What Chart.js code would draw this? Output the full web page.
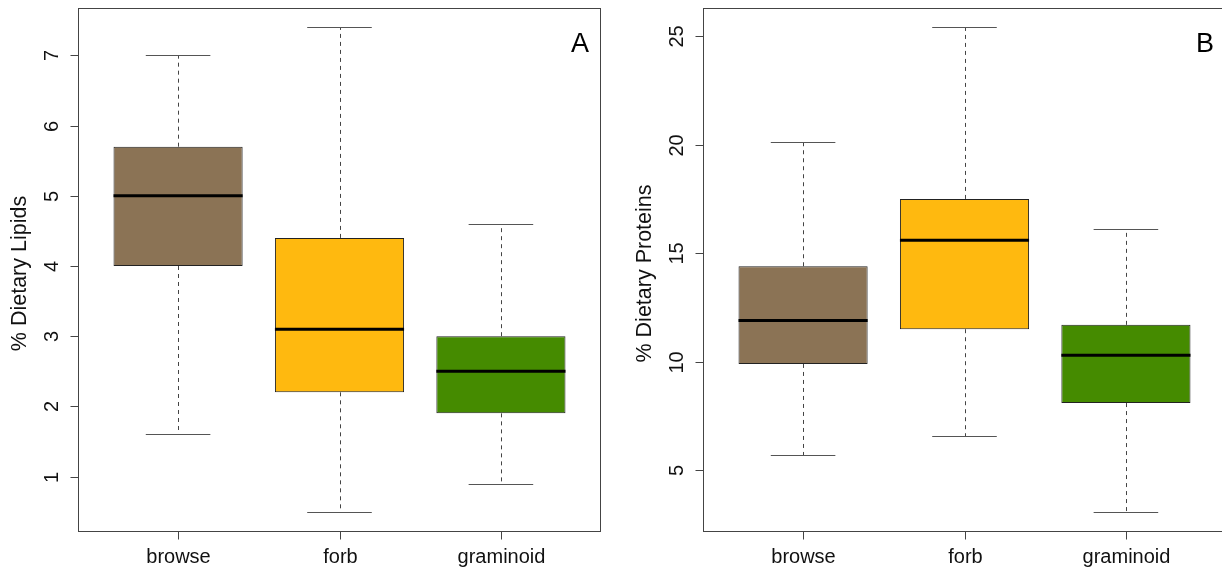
<!DOCTYPE html>
<html>
<head>
<meta charset="utf-8">
<script src="https://cdn.jsdelivr.net/npm/chart.js@4.4.1/dist/chart.umd.min.js"></script>
<style>
  html, body { margin: 0; padding: 0; background: #fff; overflow: hidden; width: 1222px; height: 571px; }
  canvas { position: absolute; top: 0; }
  #lipids { left: 0; }
  #proteins { left: 611px; }
</style>
</head>
<body>
<canvas id="lipids" width="611" height="571"></canvas>
<canvas id="proteins" width="620" height="571"></canvas>
<script>
// Forage classes shown on both panels
const categories = ['browse', 'forb', 'graminoid'];
const boxColors = ['#8B7355', '#FFB90F', '#458B00'];

// Panel A: % dietary lipids (five-number summaries)
const lipidsLow    = [1.6, 0.5, 0.9];
const lipidsQ1     = [4.0, 2.2, 1.9];
const lipidsMedian = [5.0, 3.1, 2.5];
const lipidsQ3     = [5.7, 4.4, 3.0];
const lipidsHigh   = [7.0, 7.4, 4.6];
const lipidsTicks  = [1, 2, 3, 4, 5, 6, 7];

// Panel B: % dietary proteins (five-number summaries)
const proteinsLow    = [5.7, 6.6, 3.1];
const proteinsQ1     = [9.9, 11.5, 8.1];
const proteinsMedian = [11.9, 15.6, 10.3];
const proteinsQ3     = [14.4, 17.5, 11.7];
const proteinsHigh   = [20.1, 25.4, 16.1];
const proteinsTicks  = [5, 10, 15, 20, 25];

const FONT = '"Liberation Sans", Arial, Helvetica, sans-serif';

// Axis range padded by 4% on each side
function paddedRange(lo, hi) {
  const span = hi - lo;
  return { min: lo - 0.04 * span, max: hi + 0.04 * span };
}

// Whiskers, staples, medians, frame, ticks and labels
const boxDecor = {
  id: 'boxDecor',
  afterDatasetsDraw(chart, args, o) {
    const ctx = chart.ctx;
    const xs = chart.scales.x, ys = chart.scales.y;
    const a = chart.chartArea;
    const bars = chart.getDatasetMeta(0).data;
    ctx.save();

    bars.forEach((bar, i) => {
      const cx = Math.round(bar.x) + 0.5;
      const half = bar.width / 2;
      const yLow = Math.round(ys.getPixelForValue(o.low[i])) + 0.5;
      const yHigh = Math.round(ys.getPixelForValue(o.high[i])) + 0.5;
      const yQ1 = ys.getPixelForValue(o.q1[i]);
      const yQ3 = ys.getPixelForValue(o.q3[i]);
      const yMed = ys.getPixelForValue(o.median[i]);

      // dashed whiskers
      ctx.strokeStyle = '#444';
      ctx.lineWidth = 1;
      ctx.setLineDash([4, 4]);
      ctx.beginPath();
      ctx.moveTo(cx, yQ3); ctx.lineTo(cx, yHigh);
      ctx.moveTo(cx, yQ1); ctx.lineTo(cx, yLow);
      ctx.stroke();

      // staples
      ctx.setLineDash([]);
      ctx.strokeStyle = '#555';
      ctx.beginPath();
      ctx.moveTo(bar.x - half / 2, yHigh); ctx.lineTo(bar.x + half / 2, yHigh);
      ctx.moveTo(bar.x - half / 2, yLow); ctx.lineTo(bar.x + half / 2, yLow);
      ctx.stroke();

      // median
      ctx.strokeStyle = '#000';
      ctx.lineWidth = 3;
      ctx.beginPath();
      ctx.moveTo(bar.x - half, yMed); ctx.lineTo(bar.x + half, yMed);
      ctx.stroke();
    });

    // frame
    const L = Math.round(a.left) + 0.5, R = Math.round(a.right) - 0.5;
    const T = Math.round(a.top) + 0.5, B = Math.round(a.bottom) + 0.5;
    ctx.strokeStyle = '#444';
    ctx.lineWidth = 1;
    ctx.strokeRect(L, T, R - L, B - T);

    // y ticks and rotated labels
    ctx.fillStyle = '#111';
    ctx.font = '20px ' + FONT;
    o.yTicks.forEach(v => {
      const py = Math.round(ys.getPixelForValue(v)) + 0.5;
      ctx.beginPath();
      ctx.moveTo(L - 8, py); ctx.lineTo(L, py);
      ctx.stroke();
      ctx.save();
      ctx.translate(L - 26, py);
      ctx.rotate(-Math.PI / 2);
      ctx.textAlign = 'center';
      ctx.textBaseline = 'middle';
      ctx.fillText(String(v), 0, 0);
      ctx.restore();
    });

    // x ticks and category labels
    categories.forEach((c, i) => {
      const px = Math.round(xs.getPixelForValue(i + 1)) + 0.5;
      ctx.beginPath();
      ctx.moveTo(px, B); ctx.lineTo(px, B + 8);
      ctx.stroke();
      ctx.textAlign = 'center';
      ctx.textBaseline = 'alphabetic';
      ctx.fillText(c, px, B + 31);
    });

    // y axis title
    ctx.save();
    ctx.font = '21.5px ' + FONT;
    ctx.translate(L - 58, (a.top + a.bottom) / 2 + 4);
    ctx.rotate(-Math.PI / 2);
    ctx.textAlign = 'center';
    ctx.textBaseline = 'middle';
    ctx.fillText(o.title, 0, 0);
    ctx.restore();

    // panel letter
    ctx.font = '27px ' + FONT;
    ctx.fillStyle = '#000';
    ctx.textAlign = 'center';
    ctx.textBaseline = 'alphabetic';
    ctx.fillText(o.letter, a.right - 21, a.top + 44);

    ctx.restore();
  }
};

function makePanel(canvasId, low, q1, median, q3, high, yTicks, title, letter, padding) {
  const yr = paddedRange(Math.min(...low), Math.max(...high));
  const n = categories.length;
  const xr = { min: 0.5 - 0.04 * n, max: n + 0.5 + 0.04 * n };
  return new Chart(document.getElementById(canvasId), {
    type: 'bar',
    data: {
      datasets: [{
        data: categories.map((c, i) => ({ x: i + 1, y: [q1[i], q3[i]] })),
        backgroundColor: boxColors,
        borderColor: '#222',
        borderWidth: 1,
        borderSkipped: false,
        barPercentage: 0.8,
        categoryPercentage: 1.0
      }]
    },
    options: {
      responsive: false,
      devicePixelRatio: 1,
      animation: false,
      layout: { padding: padding },
      scales: {
        x: {
          type: 'linear', min: xr.min, max: xr.max, offset: false, display: false,
          // one tick per category so the bar width follows the category spacing
          afterBuildTicks: (scale) => { scale.ticks = categories.map((c, i) => ({ value: i + 1 })); }
        },
        y: { type: 'linear', min: yr.min, max: yr.max, display: false }
      },
      plugins: {
        legend: { display: false },
        tooltip: { enabled: false },
        boxDecor: { low, q1, median, q3, high, yTicks, title, letter }
      }
    },
    plugins: [boxDecor]
  });
}

makePanel('lipids', lipidsLow, lipidsQ1, lipidsMedian, lipidsQ3, lipidsHigh,
  lipidsTicks, '% Dietary Lipids', 'A', { left: 78, top: 8, right: 10, bottom: 40 });
makePanel('proteins', proteinsLow, proteinsQ1, proteinsMedian, proteinsQ3, proteinsHigh,
  proteinsTicks, '% Dietary Proteins', 'B', { left: 92, top: 8, right: 5, bottom: 40 });
</script>
</body>
</html>
